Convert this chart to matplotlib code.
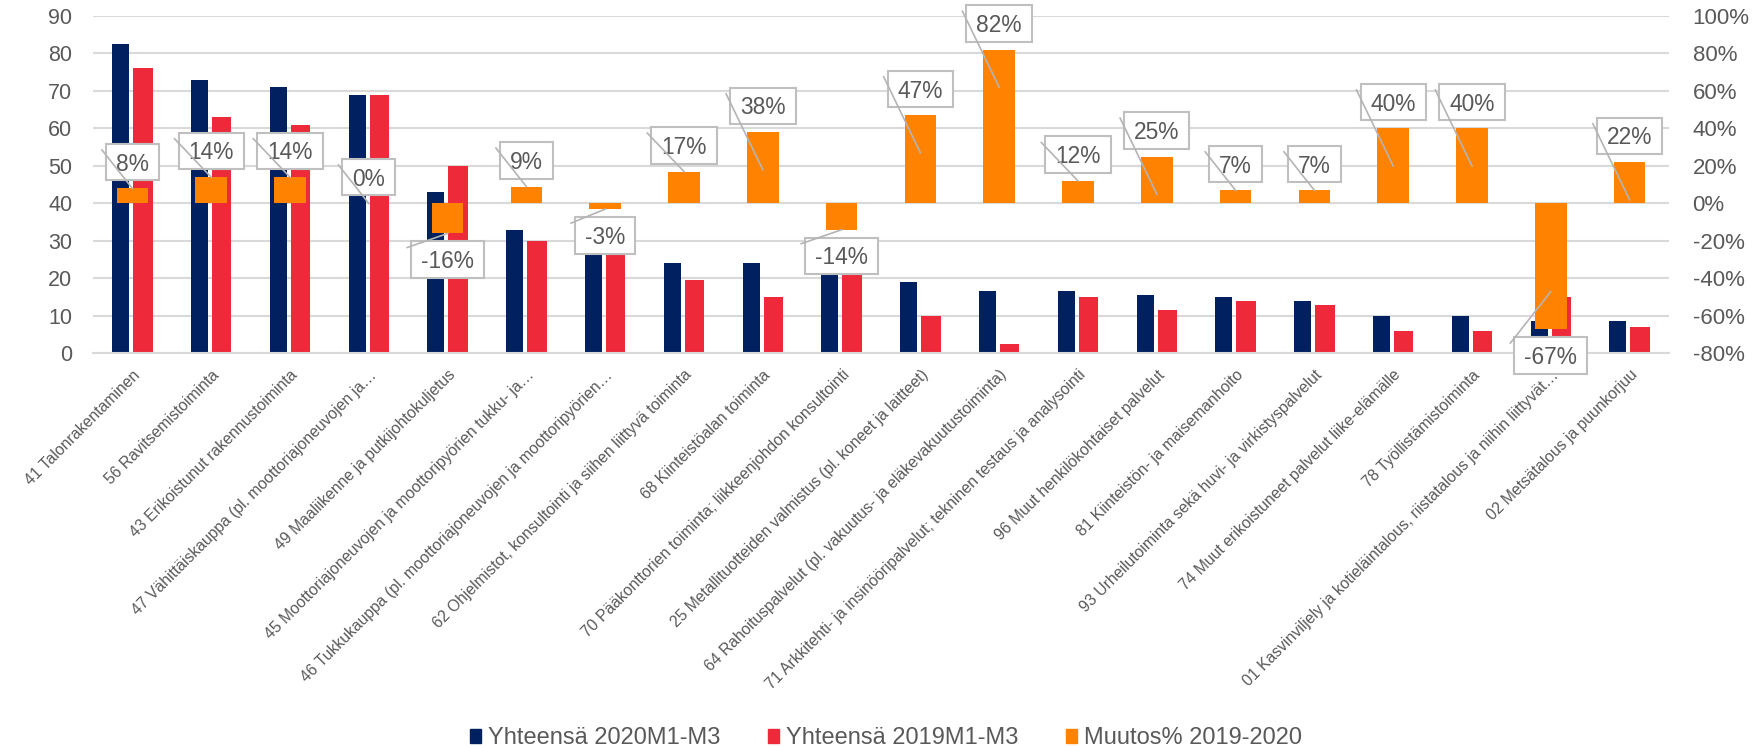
import matplotlib
matplotlib.use("Agg")

import numpy as np
import matplotlib.pyplot as plt
from matplotlib.patches import Patch, Rectangle
from matplotlib.lines import Line2D

plt.rcParams["font.family"] = ["Liberation Sans", "DejaVu Sans"]

# ── Data ──────────────────────────────────────────────────────────────────────
categories = [
    "41 Talonrakentaminen",
    "56 Ravitsemistoiminta",
    "43 Erikoistunut rakennustoiminta",
    "47 Vähittäiskauppa (pl. moottoriajoneuvojen ja…",
    "49 Maaliikenne ja putkijohtokuljetus",
    "45 Moottoriajoneuvojen ja moottoripyörien tukku- ja…",
    "46 Tukkukauppa (pl. moottoriajoneuvojen ja moottoripyörien…",
    "62 Ohjelmistot, konsultointi ja siihen liittyvä toiminta",
    "68 Kiinteistöalan toiminta",
    "70 Pääkonttorien toiminta; liikkeenjohdon konsultointi",
    "25 Metallituotteiden valmistus (pl. koneet ja laitteet)",
    "64 Rahoituspalvelut (pl. vakuutus- ja eläkevakuutustoiminta)",
    "71 Arkkitehti- ja insinööripalvelut; tekninen testaus ja analysointi",
    "96 Muut henkilökohtaiset palvelut",
    "81 Kiinteistön- ja maisemanhoito",
    "93 Urheilutoiminta sekä huvi- ja virkistyspalvelut",
    "74 Muut erikoistuneet palvelut liike-elämälle",
    "78 Työllistämistoiminta",
    "01 Kasvinviljely ja kotieläintalous, riistatalous ja niihin liittyvät…",
    "02 Metsätalous ja puunkorjuu",
]
total_2020 = [82.5, 73, 71, 69, 43, 33, 29, 24, 24, 23,
              19, 16.7, 16.7, 15.6, 15.1, 13.9, 10, 10, 8.7, 8.7]
total_2019 = [76, 63, 61, 69, 50, 30, 30, 19.5, 15, 26,
              10, 2.5, 15.1, 11.6, 13.9, 12.9, 5.9, 5.9, 15.1, 7.1]
pct_change = [8, 14, 14, 0, -16, 9, -3, 17, 38, -14,
              47, 82, 12, 25, 7, 7, 40, 40, -67, 22]

legend_labels = ["Yhteensä 2020M1-M3", "Yhteensä 2019M1-M3", "Muutos% 2019-2020"]

NAVY = "#002060"
RED = "#ee2a3a"
ORANGE = "#ff8300"
TEXT = "#595959"
GRID = "#d9d9d9"
BOX = "#bfbfbf"

# ── Figure ────────────────────────────────────────────────────────────────────
fig = plt.figure(figsize=(17.65, 7.47), dpi=100)
ax = fig.add_axes([0.0527, 0.5268, 0.8929, 0.4518])
ax2 = ax.twinx()

x = np.arange(len(categories))
ax.bar(x - 0.1485, total_2020, 0.215, color=NAVY, zorder=2)
ax.bar(x + 0.133, total_2019, 0.246, color=RED, zorder=2)
ax2.bar(x, pct_change, 0.40, color=ORANGE, zorder=2)

ax.set_xlim(-0.5, len(categories) - 0.5)
ax.set_ylim(0, 90)
ax.set_yticks(range(0, 91, 10))
ax2.set_ylim(-80, 100)
ax2.set_yticks(range(-80, 101, 20))
ax2.set_yticklabels([f"{t}%" for t in range(-80, 101, 20)])

ax.yaxis.grid(True, color=GRID, lw=1.5, zorder=0)
ax.set_axisbelow(True)
for sp in ["top", "left", "right"]:
    ax.spines[sp].set_visible(False)
ax.spines["bottom"].set_color(GRID)
ax.spines["bottom"].set_linewidth(1.5)
for sp in ax2.spines.values():
    sp.set_visible(False)

ax.tick_params(axis="y", length=0, pad=15, labelsize=15.5, labelcolor=TEXT)
ax2.tick_params(axis="y", length=0, pad=17, labelsize=16, labelcolor=TEXT)
ax.set_xticks(x)
ax.set_xticklabels(categories, rotation=45, ha="right", va="top",
                   rotation_mode="anchor", fontsize=11.3, color=TEXT)
ax.tick_params(axis="x", length=0, pad=10)

# ── Data labels with boxes and leader lines ───────────────────────────────────
fig.canvas.draw()
renderer = fig.canvas.get_renderer()
W, H = fig.bbox.width, fig.bbox.height
box_h, gap, hpad = 36.5, 8, 10

for i, p in enumerate(pct_change):
    X, Y = ax2.transData.transform((i, p))
    t = fig.text(0, 0, f"{p}%", fontsize=16.4, color=TEXT,
                 ha="center", va="center", zorder=6)
    tw = t.get_window_extent(renderer).width
    bw = tw + 2 * hpad
    y0 = Y + gap if p >= 0 else Y - gap - box_h
    x0 = X - bw / 2
    t.set_position((X / W, (y0 + box_h / 2 - 2) / H))
    fig.add_artist(Rectangle((x0 / W, y0 / H), bw / W, box_h / H,
                             transform=fig.transFigure, facecolor="white",
                             edgecolor=BOX, lw=1.5, zorder=5))
    if p >= 20:
        end = p - 20
    elif p <= -20:
        end = p + 20
    else:
        end = p
    Xe, Ye = ax2.transData.transform((i, end))
    fig.add_artist(Line2D([(x0 - 4) / W, Xe / W], [(y0 + box_h - 6) / H, Ye / H],
                          transform=fig.transFigure, color="#b4b4b4",
                          lw=1.2, zorder=7))

# ── Legend ────────────────────────────────────────────────────────────────────
handles = [Patch(color=NAVY), Patch(color=RED), Patch(color=ORANGE)]
fig.legend(handles, legend_labels, loc="center", bbox_to_anchor=(0.502, 0.012),
           ncol=3, frameon=False, fontsize=17, labelcolor=TEXT,
           handlelength=0.47, handleheight=0.55, handletextpad=0.3,
           columnspacing=2.0, borderpad=0)

fig.savefig("out.png", dpi=100)
plt.close(fig)
